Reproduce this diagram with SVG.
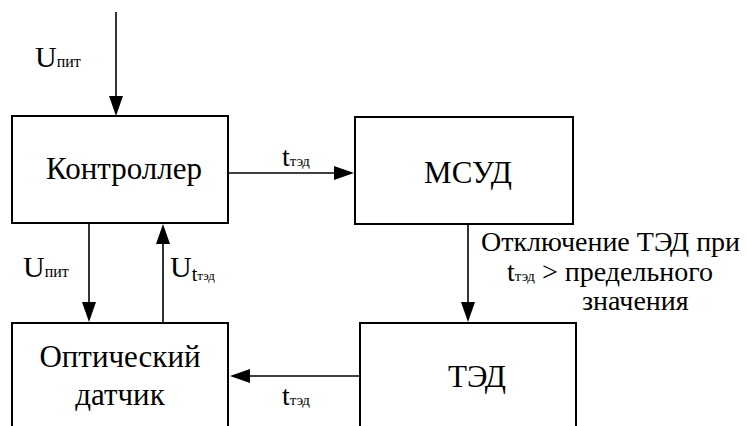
<svg xmlns="http://www.w3.org/2000/svg" width="747" height="426" viewBox="0 0 747 426">
<g id="connectors" stroke="#000" stroke-width="1.6" fill="#000">
<line x1="116" y1="12" x2="116" y2="100"/>
<path stroke="none" d="M109,96 L123,96 L116,116 Z"/>
<line x1="229" y1="173" x2="338" y2="173"/>
<path stroke="none" d="M334,166 L334,180 L354,173 Z"/>
<line x1="89" y1="224" x2="89" y2="306"/>
<path stroke="none" d="M82,302 L96,302 L89,322 Z"/>
<line x1="163" y1="322" x2="163" y2="240"/>
<path stroke="none" d="M156,244 L170,244 L163,224 Z"/>
<line x1="468" y1="225" x2="468" y2="306"/>
<path stroke="none" d="M461,302 L475,302 L468,322 Z"/>
<line x1="359" y1="376" x2="246" y2="376"/>
<path stroke="none" d="M250,369 L250,383 L230,376 Z"/>
</g>
<text font-size="30" font-family="Liberation Serif" x="35" y="67">U<tspan font-size="16">пит</tspan></text>
<text font-size="28" font-family="Liberation Serif" x="282" y="166">t<tspan font-size="15">тэд</tspan></text>
<text font-size="30" font-family="Liberation Serif" x="23" y="277">U<tspan font-size="16">пит</tspan></text>
<text font-size="30" font-family="Liberation Serif" x="170" y="277">U<tspan font-size="20" dy="4">t</tspan><tspan font-size="13" dy="-1">тэд</tspan></text>
<text font-size="28" font-family="Liberation Serif" x="282" y="405">t<tspan font-size="15">тэд</tspan></text>
<text font-size="28" font-family="Liberation Serif" x="481" y="251">Отключение ТЭД при</text>
<text font-size="28" font-family="Liberation Serif" x="507" y="281">t<tspan font-size="15">тэд</tspan> &gt; предельного</text>
<text font-size="28" font-family="Liberation Serif" x="582" y="310">значения</text>
<g id="controller">
<rect x="12" y="116" width="216" height="107" fill="#fff" stroke="#000" stroke-width="2"/>
<text font-size="31" font-family="Liberation Serif" x="124" y="179" text-anchor="middle">Контроллер</text>
</g>
<g id="msud">
<rect x="355" y="117" width="218" height="107" fill="#fff" stroke="#000" stroke-width="2"/>
<text font-size="31" font-family="Liberation Serif" x="468" y="183" text-anchor="middle">МСУД</text>
</g>
<g id="optical">
<rect x="12" y="323" width="216" height="120" fill="#fff" stroke="#000" stroke-width="2"/>
<text font-size="31" font-family="Liberation Serif" x="120" y="367" text-anchor="middle">Оптический</text>
<text font-size="31" font-family="Liberation Serif" x="120" y="405" text-anchor="middle">датчик</text>
</g>
<g id="ted">
<rect x="360" y="323" width="216" height="120" fill="#fff" stroke="#000" stroke-width="2"/>
<text font-size="31" font-family="Liberation Serif" x="477" y="387" text-anchor="middle">ТЭД</text>
</g>
</svg>
